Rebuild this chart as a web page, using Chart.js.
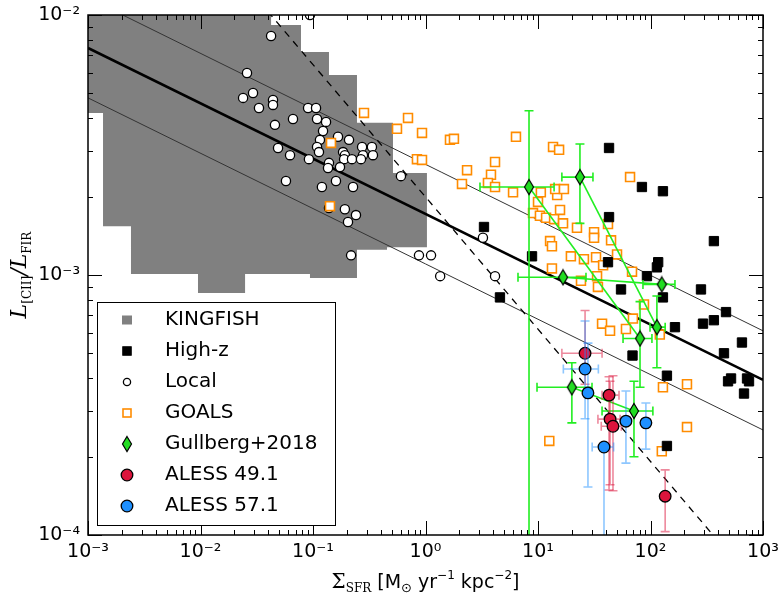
<!DOCTYPE html>
<html>
<head>
<meta charset="utf-8">
<script src="https://cdn.jsdelivr.net/npm/chart.js@4/dist/chart.umd.min.js"></script>
<style>
  html, body { margin: 0; padding: 0; background: #fff; }
  #wrap { width: 779px; height: 599px; }
</style>
</head>
<body>
<div id="wrap"><canvas id="chart" width="779" height="599"></canvas></div>
<script>
// axis ranges and tick labels
const X_MIN = 1e-3, X_MAX = 1e3, Y_MIN = 1e-4, Y_MAX = 1e-2;
const xTickValues = [1e-3, 1e-2, 1e-1, 1, 10, 100, 1000];
const xTickLabels = ['10⁻³', '10⁻²', '10⁻¹', '10⁰', '10¹', '10²', '10³'];
const yTickValues = [1e-4, 1e-3, 1e-2];
const yTickLabels = ['10⁻⁴', '10⁻³', '10⁻²'];

// KINGFISH envelope (stepped outline, walked clockwise)
const kingfishX = [0.001, 0.0424, 0.0424, 0.0782, 0.0782, 0.1387, 0.1387, 0.246, 0.246, 0.514, 0.514, 1.03, 1.03, 0.455, 0.455, 0.246, 0.246, 0.094, 0.094, 0.0249, 0.0249, 0.0095, 0.0095, 0.00241, 0.00241, 0.00136, 0.00136, 0.001, 0.001];
const kingfishY = [0.01, 0.01, 0.00916, 0.00916, 0.00721, 0.00721, 0.00588, 0.00588, 0.00385, 0.00385, 0.00247, 0.00247, 0.00128, 0.00128, 0.00125, 0.00125, 0.000973, 0.000973, 0.00101, 0.00101, 0.000853, 0.000853, 0.00101, 0.00101, 0.00154, 0.00154, 0.0042, 0.0042, 0.01];

// fit relations
const fitX = [1e-3, 1e3];
const fitMidY = [7.47e-3, 3.95e-4];
const fitUpperY = [1.164e-2, 6.1e-4];
const fitLowerY = [4.80e-3, 2.535e-4];
const dashedX = [1e-2, 1e3];
const dashedY = [2.08e-2, 5.94e-5];

const localX = [0.094, 0.0424, 0.0259, 0.0293, 0.0239, 0.0331, 0.0441, 0.0441, 0.0904, 0.1064, 0.0664, 0.1086, 0.1306, 0.0459, 0.1228, 0.1668, 0.1153, 0.209, 0.1086, 0.273, 0.334, 0.0489, 0.113, 0.185, 0.278, 0.341, 0.0625, 0.192, 0.189, 0.222, 0.267, 0.092, 0.1387, 0.136, 0.1738, 0.605, 0.0575, 0.160, 0.120, 0.227, 0.1387, 0.192, 0.241, 0.2047, 0.218, 0.875, 1.12, 3.24, 1.35, 4.15];
const localY = [0.0100, 0.0083, 0.00598, 0.00501, 0.0048, 0.00439, 0.00471, 0.00451, 0.00439, 0.00439, 0.00398, 0.00398, 0.00388, 0.00378, 0.00358, 0.0034, 0.00331, 0.00331, 0.00311, 0.00311, 0.00311, 0.00308, 0.00297, 0.00297, 0.00289, 0.00289, 0.00289, 0.00289, 0.00279, 0.00279, 0.00279, 0.00279, 0.0027, 0.00258, 0.0026, 0.0024, 0.0023, 0.0023, 0.00218, 0.00218, 0.00181, 0.00179, 0.0017, 0.0016, 0.00119, 0.00119, 0.00119, 0.00139, 0.00099, 0.00099];

const goalsX = [0.284, 0.699, 0.558, 0.931, 1.65, 1.79, 6.37, 0.1445, 0.839, 0.931, 2.34, 4.15, 3.82, 3.59, 2.11, 4.15, 6.0, 0.1416, 13.6, 15.4, 10.6, 14.8, 14.2, 17.0, 65.8, 10.0, 15.7, 9.03, 10.4, 11.8, 13.9, 16.7, 22.2, 31.5, 31.5, 41.9, 44.6, 12.8, 13.3, 50.4, 19.6, 25.6, 32.8, 37.9, 13.3, 33.5, 24.1, 34.1, 68.5, 87.5, 69.8, 37.1, 43.7, 60.5, 121, 129, 211, 211, 12.6, 126];
const goalsY = [0.0042, 0.00402, 0.00365, 0.00352, 0.00331, 0.00334, 0.0034, 0.00322, 0.00279, 0.00277, 0.00253, 0.00272, 0.00243, 0.00226, 0.00224, 0.00218, 0.00208, 0.00184, 0.00311, 0.00303, 0.00208, 0.00203, 0.00214, 0.00214, 0.00238, 0.00191, 0.00178, 0.00173, 0.00169, 0.00166, 0.00164, 0.00158, 0.00152, 0.00146, 0.00139, 0.00157, 0.00136, 0.00135, 0.00129, 0.0012, 0.00118, 0.00115, 0.00117, 0.00109, 0.00106, 0.00099, 0.00095, 0.0009, 0.00103, 0.00077, 0.00068, 0.00065, 0.00061, 0.00062, 0.00059, 0.00037, 0.00038, 0.00026, 0.00023, 0.00021];

const highzX = [3.31, 4.59, 42.8, 83.9, 129, 42.8, 8.85, 41.9, 366, 117, 114, 93, 54.7, 281, 129, 469, 165, 293, 366, 650, 69.2, 450, 140, 489, 520, 721, 751, 678, 140];
const highzY = [0.00153, 0.00082, 0.00308, 0.00218, 0.0021, 0.00167, 0.00118, 0.00112, 0.00135, 0.00112, 0.00107, 0.00099, 0.00088, 0.00088, 0.00082, 0.00072, 0.00063, 0.00065, 0.00067, 0.00055, 0.00049, 0.0005, 0.00041, 0.00039, 0.0004, 0.0004, 0.00039, 0.00035, 0.00022];

const gullX = [8.32, 23.6, 16.7, 126, 114, 80.7, 20.0, 71.3];
const gullY = [0.00218, 0.00238, 0.00098, 0.00092, 0.00063, 0.00057, 0.00037, 0.0003];
const gullXLo = [3.05, 16.3, 6.64, 85.7, 99, 57, 9.8, 37.1];
const gullXHi = [13.9, 30.8, 26.7, 165, 135, 103, 30.2, 105];
const gullYLo = [1e-5, 0.00158, 0.00098, 0.00092, 0.00044, 0.00037, 0.00027, 0.0002];
const gullYHi = [0.00428, 0.00319, 0.00098, 0.00092, 0.00083, 0.00079, 0.00046, 0.00039];
const gullPairs = [[0, 5], [1, 4], [2, 3], [6, 7]];

const a49X = [26.2, 42.8, 43.7, 46.4, 135];
const a49Y = [0.0005, 0.000345, 0.000279, 0.000262, 0.000141];
const a49XLo = [16.3, 37.1, 34.1, 36.5, 135];
const a49XHi = [37.1, 52.5, 53.7, 55, 135];
const a49YLo = [0.00038, 0.000149, 0.000156, 0.000148, 0.000103];
const a49YHi = [0.00073, 0.000406, 0.00039, 0.00041, 0.000178];

const a57X = [26.2, 27.8, 38.6, 60.5, 91];
const a57Y = [0.000435, 0.000352, 0.000218, 0.000274, 0.00027];
const a57XLo = [16.8, 27.8, 30.3, 60.5, 91];
const a57XHi = [34.4, 27.8, 47, 60.5, 91];
const a57YLo = [0.00028, 0.000153, 1e-5, 0.000189, 0.000214];
const a57YHi = [0.000665, 0.000547, 0.000218, 0.000358, 0.000322];

const FONT = 'DejaVu Sans';
const GREEN = '#22ee22';

function pts(xs, ys) {
    return xs.map(function (x, i) { return { x: x, y: ys[i] }; });
}

function makeDiamond(w, h, fill, stroke, lw) {
    const c = document.createElement('canvas');
    c.width = Math.ceil(w + lw * 2);
    c.height = Math.ceil(h + lw * 2);
    const g = c.getContext('2d');
    const cx = c.width / 2, cy = c.height / 2;
    g.beginPath();
    g.moveTo(cx, cy - h / 2);
    g.lineTo(cx + w / 2, cy);
    g.lineTo(cx, cy + h / 2);
    g.lineTo(cx - w / 2, cy);
    g.closePath();
    g.fillStyle = fill;
    g.fill();
    g.lineWidth = lw;
    g.strokeStyle = stroke;
    g.stroke();
    return c;
}
const diamondImg = makeDiamond(9, 15, '#22dd22', '#000', 1.2);

function lineSet(xs, ys, color, width, dash, order) {
    return {
        type: 'line', data: pts(xs, ys), showLine: true, fill: false,
        borderColor: color, borderWidth: width, borderDash: dash || [],
        pointRadius: 0, tension: 0, order: order, inLegend: false
    };
}

const datasets = [
    {
        label: 'KINGFISH', type: 'line', data: pts(kingfishX, kingfishY), showLine: true,
        fill: 'shape', backgroundColor: '#808080', borderColor: 'rgba(0,0,0,0)', borderWidth: 1,
        pointRadius: 0, tension: 0, order: 30, inLegend: true
    },
    lineSet(fitX, fitMidY, '#000', 2.6, null, 25),
    lineSet(fitX, fitUpperY, '#333', 1, null, 25),
    lineSet(fitX, fitLowerY, '#333', 1, null, 25),
    lineSet(dashedX, dashedY, '#000', 1.3, [7, 6], 24),
    {
        label: 'High-z', data: pts(highzX, highzY), showLine: false, pointStyle: 'rect',
        pointRadius: 6.6, pointBackgroundColor: '#000', pointBorderColor: '#000', pointBorderWidth: 1,
        order: 18, inLegend: true
    },
    {
        label: 'Local', data: pts(localX, localY), showLine: false, pointStyle: 'circle',
        pointRadius: 4.6, pointBackgroundColor: '#fff', pointBorderColor: '#000', pointBorderWidth: 1.3,
        order: 20, inLegend: true
    },
    {
        label: 'GOALS', data: pts(goalsX, goalsY), showLine: false, pointStyle: 'rect',
        pointRadius: 6.3, pointBackgroundColor: '#fff', pointBorderColor: '#ff8c00', pointBorderWidth: 1.6,
        order: 19, inLegend: true
    },
    {
        label: 'Gullberg+2018', data: pts(gullX, gullY), showLine: false, pointStyle: diamondImg,
        pointRadius: 8, order: 14, inLegend: true,
        errors: { xLo: gullXLo, xHi: gullXHi, yLo: gullYLo, yHi: gullYHi, color: GREEN, width: 1.6 }
    },
    {
        label: 'ALESS 49.1', data: pts(a49X, a49Y), showLine: false, pointStyle: 'circle',
        pointRadius: 5.8, pointBackgroundColor: '#dc143c', pointBorderColor: '#000', pointBorderWidth: 1.3,
        order: 11, inLegend: true,
        errors: { xLo: a49XLo, xHi: a49XHi, yLo: a49YLo, yHi: a49YHi, color: 'rgba(220,20,60,0.5)', width: 1.6 }
    },
    {
        label: 'ALESS 57.1', data: pts(a57X, a57Y), showLine: false, pointStyle: 'circle',
        pointRadius: 5.8, pointBackgroundColor: '#1e90ff', pointBorderColor: '#000', pointBorderWidth: 1.3,
        order: 10, inLegend: true,
        errors: { xLo: a57XLo, xHi: a57XHi, yLo: a57YLo, yHi: a57YHi, color: 'rgba(30,144,255,0.5)', width: 1.6 }
    }
];
gullPairs.forEach(function (p) {
    datasets.push(lineSet([gullX[p[0]], gullX[p[1]]], [gullY[p[0]], gullY[p[1]]], GREEN, 1.6, null, 15));
});

// error bars are drawn just before their own markers
const errorBars = {
    id: 'errorBars',
    beforeDatasetDraw: function (chart, args) {
        const ds = chart.data.datasets[args.index];
        if (!ds.errors) {
            return;
        }
        const e = ds.errors;
        const sx = chart.scales.x, sy = chart.scales.y, a = chart.chartArea, ctx = chart.ctx;
        const cap = 4.5;
        ctx.save();
        ctx.beginPath();
        ctx.rect(a.left, a.top, a.right - a.left, a.bottom - a.top);
        ctx.clip();
        ctx.strokeStyle = e.color;
        ctx.lineWidth = e.width;
        ds.data.forEach(function (p, i) {
            const px = sx.getPixelForValue(p.x), py = sy.getPixelForValue(p.y);
            ctx.beginPath();
            if (e.xLo[i] !== e.xHi[i]) {
                const x0 = sx.getPixelForValue(e.xLo[i]), x1 = sx.getPixelForValue(e.xHi[i]);
                ctx.moveTo(x0, py); ctx.lineTo(x1, py);
                ctx.moveTo(x0, py - cap); ctx.lineTo(x0, py + cap);
                ctx.moveTo(x1, py - cap); ctx.lineTo(x1, py + cap);
            }
            if (e.yLo[i] !== e.yHi[i]) {
                const y0 = sy.getPixelForValue(e.yLo[i]), y1 = sy.getPixelForValue(e.yHi[i]);
                ctx.moveTo(px, y0); ctx.lineTo(px, y1);
                ctx.moveTo(px - cap, y0); ctx.lineTo(px + cap, y0);
                ctx.moveTo(px - cap, y1); ctx.lineTo(px + cap, y1);
            }
            ctx.stroke();
        });
        ctx.restore();
    }
};

function drawRich(ctx, parts, x, y) {
    let w = 0;
    parts.forEach(function (p) { ctx.font = p.font; p.w = ctx.measureText(p.t).width; w += p.w; });
    let cx = x - w / 2;
    ctx.textAlign = 'left';
    ctx.textBaseline = 'alphabetic';
    parts.forEach(function (p) { ctx.font = p.font; ctx.fillText(p.t, cx, y + (p.dy || 0)); cx += p.w; });
}

function legendMarker(ctx, ds, x, y) {
    ctx.save();
    if (ds.label === 'KINGFISH') {
        ctx.fillStyle = '#808080';
        ctx.fillRect(x - 5, y - 4.5, 10, 9);
    } else if (ds.pointStyle === 'rect') {
        const s = ds.label === 'GOALS' ? 8 : 8.5;
        ctx.fillStyle = ds.pointBackgroundColor;
        ctx.strokeStyle = ds.pointBorderColor;
        ctx.lineWidth = ds.pointBorderWidth;
        ctx.fillRect(x - s / 2, y - s / 2, s, s);
        ctx.strokeRect(x - s / 2, y - s / 2, s, s);
    } else if (ds.pointStyle === 'circle') {
        const r = ds.label === 'Local' ? 3.6 : ds.pointRadius;
        ctx.beginPath();
        ctx.arc(x, y, r, 0, Math.PI * 2);
        ctx.fillStyle = ds.pointBackgroundColor;
        ctx.fill();
        ctx.strokeStyle = ds.pointBorderColor;
        ctx.lineWidth = ds.pointBorderWidth;
        ctx.stroke();
    } else {
        ctx.drawImage(ds.pointStyle, x - ds.pointStyle.width / 2, y - ds.pointStyle.height / 2);
    }
    ctx.restore();
}

const frame = {
    id: 'frame',
    afterDatasetsDraw: function (chart) {
        const ctx = chart.ctx, a = chart.chartArea, sx = chart.scales.x, sy = chart.scales.y;
        ctx.save();
        ctx.strokeStyle = '#000';
        ctx.lineWidth = 1;
        ctx.beginPath();
        for (let k = -3; k <= 3; k++) {
            for (let m = 1; m <= 9; m++) {
                const v = m * Math.pow(10, k);
                if (v > X_MAX * 1.0001) { break; }
                const px = Math.round(sx.getPixelForValue(v)) + 0.5;
                const len = m === 1 ? 14 : 5;
                ctx.moveTo(px, a.bottom); ctx.lineTo(px, a.bottom - len);
                ctx.moveTo(px, a.top); ctx.lineTo(px, a.top + len);
            }
        }
        for (let k = -4; k <= -2; k++) {
            for (let m = 1; m <= 9; m++) {
                const v = m * Math.pow(10, k);
                if (v > Y_MAX * 1.0001) { break; }
                const py = Math.round(sy.getPixelForValue(v)) + 0.5;
                const len = m === 1 ? 14 : 5;
                ctx.moveTo(a.left, py); ctx.lineTo(a.left + len, py);
                ctx.moveTo(a.right, py); ctx.lineTo(a.right - len, py);
            }
        }
        ctx.stroke();
        ctx.lineWidth = 1.5;
        ctx.strokeRect(a.left, a.top, a.right - a.left, a.bottom - a.top);
        ctx.restore();
    },
    afterDraw: function (chart) {
        const ctx = chart.ctx, a = chart.chartArea;
        ctx.save();
        ctx.fillStyle = '#000';
        // x title
        drawRich(ctx, [
            { t: 'Σ', font: '20px "DejaVu Serif"' },
            { t: 'SFR', font: '12px "DejaVu Serif"', dy: 4 },
            { t: ' [M', font: '19px ' + FONT },
            { t: '⊙', font: '13px ' + FONT, dy: 4 },
            { t: ' yr', font: '19px ' + FONT },
            { t: '−1', font: '12px ' + FONT, dy: -9 },
            { t: ' kpc', font: '19px ' + FONT },
            { t: '−2', font: '12px ' + FONT, dy: -9 },
            { t: ']', font: '19px ' + FONT }
        ], (a.left + a.right) / 2, 588);
        // y title
        ctx.translate(26, (a.top + a.bottom) / 2);
        ctx.rotate(-Math.PI / 2);
        drawRich(ctx, [
            { t: 'L', font: 'italic 22px "DejaVu Serif"' },
            { t: '[CII]', font: '12px "DejaVu Serif"', dy: 5 },
            { t: '/L', font: 'italic 22px "DejaVu Serif"' },
            { t: 'FIR', font: '12px "DejaVu Serif"', dy: 5 }
        ], 0, 0);
        ctx.restore();

        // legend box
        const bx = 97, by = 302, bw = 238, bh = 223;
        ctx.save();
        ctx.fillStyle = '#fff';
        ctx.fillRect(bx, by, bw, bh);
        ctx.strokeStyle = '#000';
        ctx.lineWidth = 1;
        ctx.strokeRect(bx + 0.5, by + 0.5, bw, bh);
        ctx.font = '20px ' + FONT;
        ctx.textBaseline = 'middle';
        ctx.textAlign = 'left';
        const items = chart.data.datasets.filter(function (d) { return d.inLegend; });
        items.forEach(function (ds, i) {
            const y = by + 18 + i * 31;
            legendMarker(ctx, ds, 127, y);
            ctx.fillStyle = '#000';
            ctx.fillText(ds.label, 165, y);
        });
        ctx.restore();
    }
};

new Chart(document.getElementById('chart'), {
    type: 'scatter',
    data: { datasets: datasets },
    options: {
        responsive: false,
        animation: false,
        events: [],
        layout: { padding: { top: 15, right: 16, left: 0, bottom: 0 } },
        plugins: { legend: { display: false }, tooltip: { enabled: false } },
        scales: {
            x: {
                type: 'logarithmic', min: X_MIN, max: X_MAX, position: 'bottom',
                afterBuildTicks: function (s) { s.ticks = xTickValues.map(function (v) { return { value: v }; }); },
                afterFit: function (s) { s.height = 64; s.paddingLeft = 0; s.paddingRight = 0; },
                grid: { display: false, drawTicks: false },
                border: { display: false },
                ticks: {
                    autoSkip: false, maxRotation: 0, padding: 6, color: '#000',
                    font: { family: FONT, size: 19 },
                    callback: function (v, i) { return xTickLabels[i]; }
                }
            },
            y: {
                type: 'logarithmic', min: Y_MIN, max: Y_MAX, position: 'left',
                afterBuildTicks: function (s) { s.ticks = yTickValues.map(function (v) { return { value: v }; }); },
                afterFit: function (s) { s.width = 88; s.paddingTop = 0; s.paddingBottom = 0; },
                grid: { display: false, drawTicks: false },
                border: { display: false },
                ticks: {
                    autoSkip: false, padding: 8, color: '#000',
                    font: { family: FONT, size: 19 },
                    callback: function (v, i) { return yTickLabels[i]; }
                }
            }
        }
    },
    plugins: [errorBars, frame]
});
</script>
</body>
</html>
